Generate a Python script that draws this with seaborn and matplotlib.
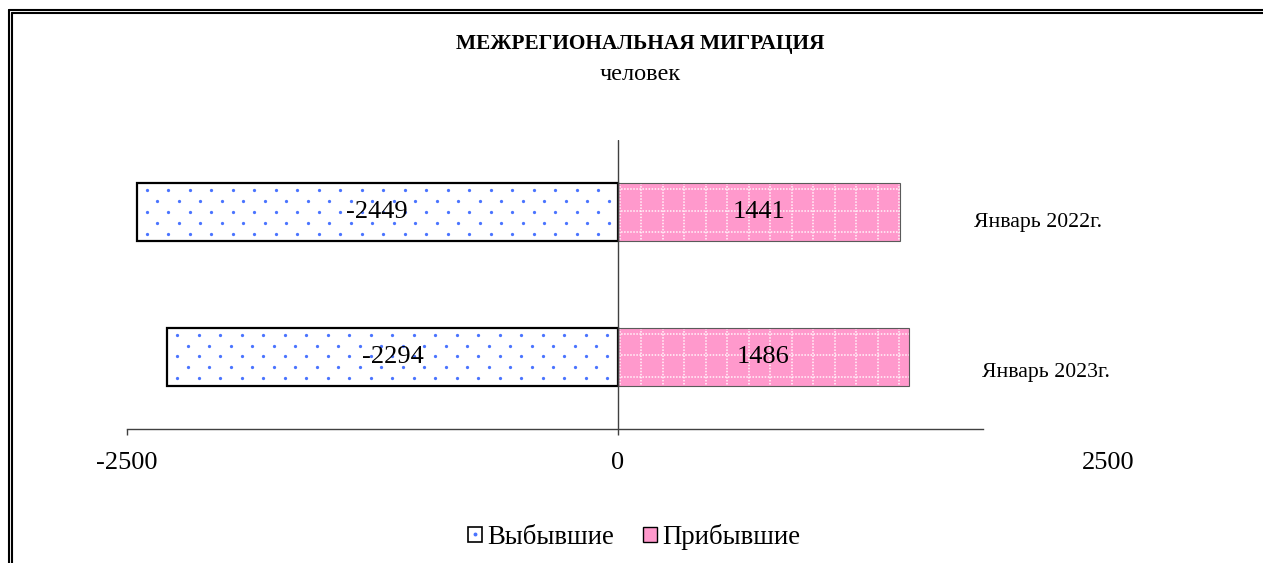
import matplotlib
matplotlib.use('Agg')
import matplotlib.pyplot as plt
import seaborn as sns
import pandas as pd
import numpy as np
from matplotlib.patches import Patch, Rectangle
from matplotlib.lines import Line2D

# ---- data ----
periods = ['Январь 2022г.', 'Январь 2023г.']
series_names = ['Выбывшие', 'Прибывшие']
departed = [-2449, -2294]
arrived = [1441, 1486]
x_ticks = [-2500, 0, 2500]
x_tick_labels = ['-2500', '0', '2500']
title = 'МЕЖРЕГИОНАЛЬНАЯ МИГРАЦИЯ'
subtitle = 'человек'

sns.set_theme(style='white')
plt.rcParams['font.family'] = ['Liberation Serif', 'DejaVu Serif']
plt.rcParams['text.color'] = 'black'
plt.rcParams['xtick.color'] = 'black'
plt.rcParams['axes.labelcolor'] = 'black'

df = pd.DataFrame({
    'period': periods * 2,
    'series': [series_names[0]] * len(periods) + [series_names[1]] * len(periods),
    'value': departed + arrived,
})

W, H = 1263, 563
fig = plt.figure(figsize=(W / 100, H / 100), dpi=100)
fig.patch.set_facecolor('white')
ax = fig.add_axes([127 / W, 1 - 429 / H, 981 / W, 289 / H])
ax.set_facecolor('none')

pink = '#ff99cc'
blue_dot = '#4a74ff'
axis_col = '#404040'
pink_edge = '#5a5a5a'

sns.barplot(data=df, x='value', y='period', hue='series', order=periods,
            hue_order=series_names,
            palette={series_names[0]: 'white', series_names[1]: pink},
            dodge=False, width=0.4, errorbar=None, saturation=1,
            legend=False, ax=ax)

ax.set_xlim(-2500, 2500)
ax.set_ylim(len(periods) - 0.5, -0.5)

sx = ax.bbox.width / 5000.0
sy = ax.bbox.height / len(periods)

for cont in ax.containers:
    for bar in cont:
        bar.set_edgecolor('none')

def bar_extent(bar):
    x0 = bar.get_x(); w = bar.get_width()
    y0 = bar.get_y(); h = bar.get_height()
    return min(x0, x0 + w), max(x0, x0 + w), min(y0, y0 + h), max(y0, y0 + h)

# dotted pattern for departed
for bar in ax.containers[0]:
    xmin, xmax, ymin, ymax = bar_extent(bar)
    dx = 21.5 / sx
    dy = 10.8 / sy
    xs, ys = [], []
    r = 0
    y = ymin + 7 / sy
    while y < ymax:
        x = xmin + 9.7 / sx + (dx / 2 if r % 2 else 0)
        while x < xmax:
            xs.append(x); ys.append(y)
            x += dx
        y += dy
        r += 1
    sc = ax.scatter(xs, ys, s=5.5, color=blue_dot, linewidths=0, zorder=1.5)
    sc.set_clip_path(bar)
    ax.add_patch(Rectangle((xmin, ymin), xmax - xmin, ymax - ymin, fc='none',
                           ec='black', lw=1.6, zorder=1.8))

# dotted grid pattern for arrived
for bar in ax.containers[1]:
    xmin, xmax, ymin, ymax = bar_extent(bar)
    step_x = 21.5 / sx
    step_y = 21.5 / sy
    x = xmin + 2 / sx
    while x < xmax:
        ln, = ax.plot([x, x], [ymin, ymax], color='white', lw=1.1,
                      ls=(0, (1, 1.0)), zorder=1.5, alpha=0.9)
        ln.set_clip_path(bar)
        x += step_x
    y = ymin + 6 / sy
    while y < ymax:
        ln, = ax.plot([xmin, xmax], [y, y], color='white', lw=1.1,
                      ls=(0, (1, 1.0)), zorder=1.5, alpha=0.9)
        ln.set_clip_path(bar)
        y += step_y
    ax.add_patch(Rectangle((xmin, ymin), xmax - xmin, ymax - ymin, fc='none',
                           ec=pink_edge, lw=0.8, zorder=1.8))

# value labels
ax.bar_label(ax.containers[0], labels=[str(v) for v in departed],
             label_type='center', fontsize=19, color='black', zorder=4)
ax.bar_label(ax.containers[1], labels=[str(v) for v in arrived],
             label_type='center', fontsize=19, color='black', zorder=4)

# axes styling
for s in ['top', 'right', 'left']:
    ax.spines[s].set_visible(False)
ax.spines['bottom'].set_color(axis_col)
ax.spines['bottom'].set_linewidth(1.0)
ax.spines['bottom'].set_bounds(-2500, -2500 + (983 - 127) / sx)
ax.axvline(0, color=axis_col, lw=1.0, zorder=2)

ax.set_xticks(x_ticks)
ax.set_xticklabels(x_tick_labels)
ax.tick_params(axis='x', bottom=True, direction='out', length=4.5, width=1.0,
               color=axis_col, pad=12, labelsize=19, labelcolor='black')
ax.xaxis.get_major_ticks()[-1].tick1line.set_visible(False)
ax.set_yticks([])
ax.set_xlabel('')
ax.set_ylabel('')

# category labels (placed at the right like the original)
cat_offsets = [(1038.5, 10.5), (1045.5, 15.5)]
for i, p in enumerate(periods):
    px, py = cat_offsets[i]
    ax.text(-2500 + (px - 127) / sx, i + py / sy, p, ha='center', va='center',
            fontsize=15.7, color='black')

# titles
fig.text(640 / W, 1 - 44.5 / H, title, ha='center', va='center',
         fontsize=15.4, fontweight='bold', color='black')
fig.text(640 / W, 1 - 74 / H, subtitle, ha='center', va='center',
         fontsize=17.5, color='black')

# legend
class DotBoxHandler:
    def legend_artist(self, legend, orig_handle, fontsize, handlebox):
        x0, y0 = -handlebox.xdescent, -handlebox.ydescent
        w, h = handlebox.width, handlebox.height
        rect = Rectangle((x0, y0), w, h, fc='white', ec='black', lw=1.2,
                         transform=handlebox.get_transform())
        dot = Line2D([x0 + w / 2], [y0 + h / 2], marker='o', ms=1.8,
                     color=blue_dot, ls='', transform=handlebox.get_transform())
        handlebox.add_artist(rect)
        handlebox.add_artist(dot)
        return rect

h1 = Patch(fc='white', ec='black')
h2 = Patch(fc=pink, ec='black', lw=1.0)
leg = fig.legend([h1, h2], series_names, loc='center',
                 bbox_to_anchor=(634 / W, 1 - 537 / H), ncol=2, frameon=False,
                 fontsize=19.3, handlelength=0.5, handleheight=0.5,
                 handletextpad=0.2, columnspacing=1.1,
                 handler_map={h1: DotBoxHandler()})
for t in leg.get_texts():
    t.set_color('black')

# double frame (left & top)
for off in (0, 3.2):
    fig.add_artist(Line2D([(8.5 + off) / W, (8.5 + off) / W], [0, 1 - (10 + off) / H],
                          transform=fig.transFigure, color='black', lw=1.5))
    fig.add_artist(Line2D([(8.5 + off) / W, 1], [1 - (10 + off) / H, 1 - (10 + off) / H],
                          transform=fig.transFigure, color='black', lw=1.5))

fig.savefig('out.png', dpi=100, facecolor='white')
